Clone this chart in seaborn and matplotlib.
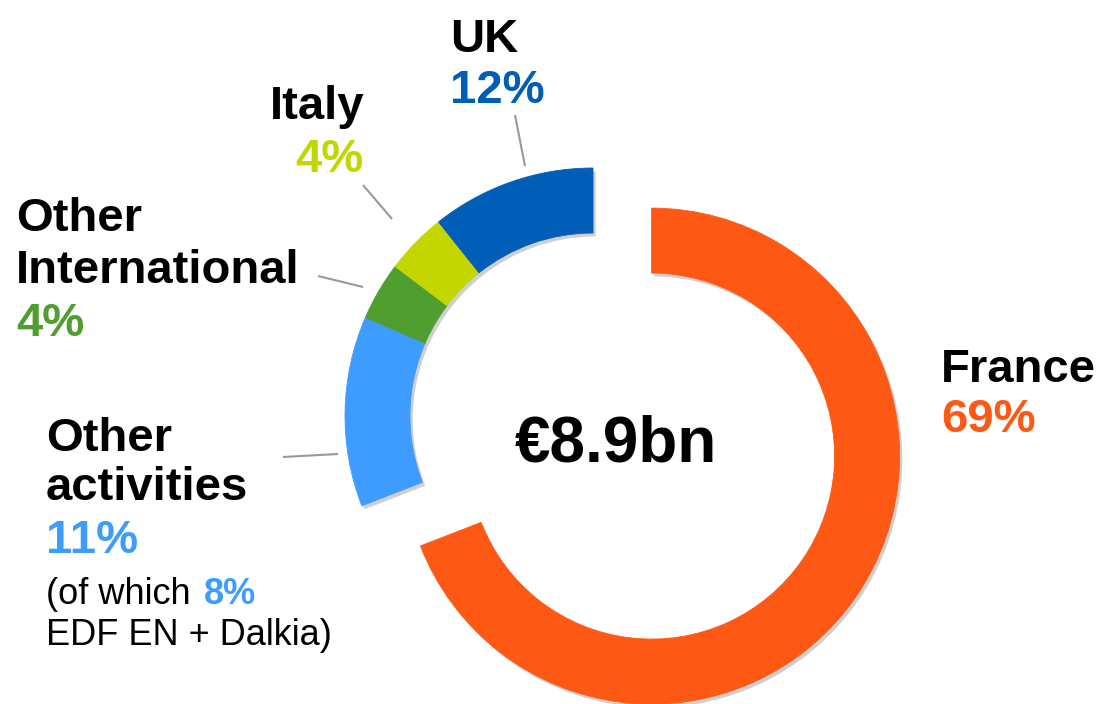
import numpy as np
import pandas as pd
import matplotlib
matplotlib.use("Agg")
import matplotlib.pyplot as plt
import seaborn as sns

segments = ["France", "Other activities", "Other International", "Italy", "UK"]
shares = [69.1, 12.4, 3.8, 4.0, 10.7]
pct_labels = ["69%", "11%", "4%", "4%", "12%"]
colors = ["#FE5815", "#3F9CFF", "#509E2F", "#C4D600", "#005EB8"]
total_label = "€8.9bn"

df = pd.DataFrame({"segment": segments, "share": shares, "pct": pct_labels, "color": colors})

sns.set_theme(style="white")
plt.rcParams["font.family"] = ["Liberation Sans", "DejaVu Sans"]
plt.rcParams["text.color"] = "black"

W, H = 1103, 704
fig = plt.figure(figsize=(W / 100, H / 100), dpi=100)
ax = fig.add_axes([0, 0, 1, 1])


def Y(py):
    # picture rows run downwards, the axes upwards
    return H - py


R = 248
ring = 65
# pie's explode is an absolute shift in data units (pixels here)
explode = [71, 0, 0, 0, 0]

wedges, _ = ax.pie(df["share"], colors=df["color"], startangle=90, counterclock=False,
                   center=(593, Y(416)), radius=R, explode=explode,
                   wedgeprops=dict(width=ring, linewidth=0.6),
                   shadow={"ox": 2, "oy": -2.5, "facecolor": "#777777", "edgecolor": "none", "alpha": 0.35})
for w in wedges:
    w.set_edgecolor(w.get_facecolor())

ax.set_xlim(0, W)
ax.set_ylim(0, H)
ax.set_aspect("equal")
ax.axis("off")

big = 34
txt = dict(fontsize=big, fontweight="bold", va="baseline")

# center total
ax.text(616, Y(462), total_label, fontsize=46, fontweight="bold", ha="center", va="baseline")

# France
ax.text(941, Y(382), "France", ha="left", **txt)
ax.text(941, Y(432), df["pct"][0], color=df["color"][0], ha="left", **txt)

# UK
ax.text(450, Y(52), "UK", ha="left", **txt)
ax.text(450, Y(103), df["pct"][4], color=df["color"][4], ha="left", **txt)

# Italy (right aligned)
ax.text(364, Y(119), "Italy", ha="right", **txt)
ax.text(364, Y(172), df["pct"][3], color=df["color"][3], ha="right", **txt)

# Other International
ax.text(16, Y(231), "Other", ha="left", **txt)
ax.text(16, Y(283), "International", ha="left", **txt)
ax.text(16, Y(336), df["pct"][2], color=df["color"][2], ha="left", **txt)

# Other activities
ax.text(46, Y(451), "Other", ha="left", **txt)
ax.text(46, Y(500), "activities", ha="left", **txt)
ax.text(46, Y(553), df["pct"][1], color=df["color"][1], ha="left", **txt)
ax.text(46, Y(604), "(of which ", fontsize=26, ha="left", va="baseline")
ax.text(204, Y(604), "8%", fontsize=26, fontweight="bold", color=df["color"][1], ha="left", va="baseline")
ax.text(46, Y(645), "EDF EN + Dalkia)", fontsize=26, ha="left", va="baseline")

# leader lines
leaders = [((515, 115), (525, 166)),
           ((363, 185), (392, 219)),
           ((318, 276), (363, 287)),
           ((283, 457), (338, 454))]
for (x0, y0), (x1, y1) in leaders:
    ax.plot([x0, x1], [Y(y0), Y(y1)], color="#999999", lw=1.5, solid_capstyle="butt")

fig.savefig("out.png", dpi=100)
